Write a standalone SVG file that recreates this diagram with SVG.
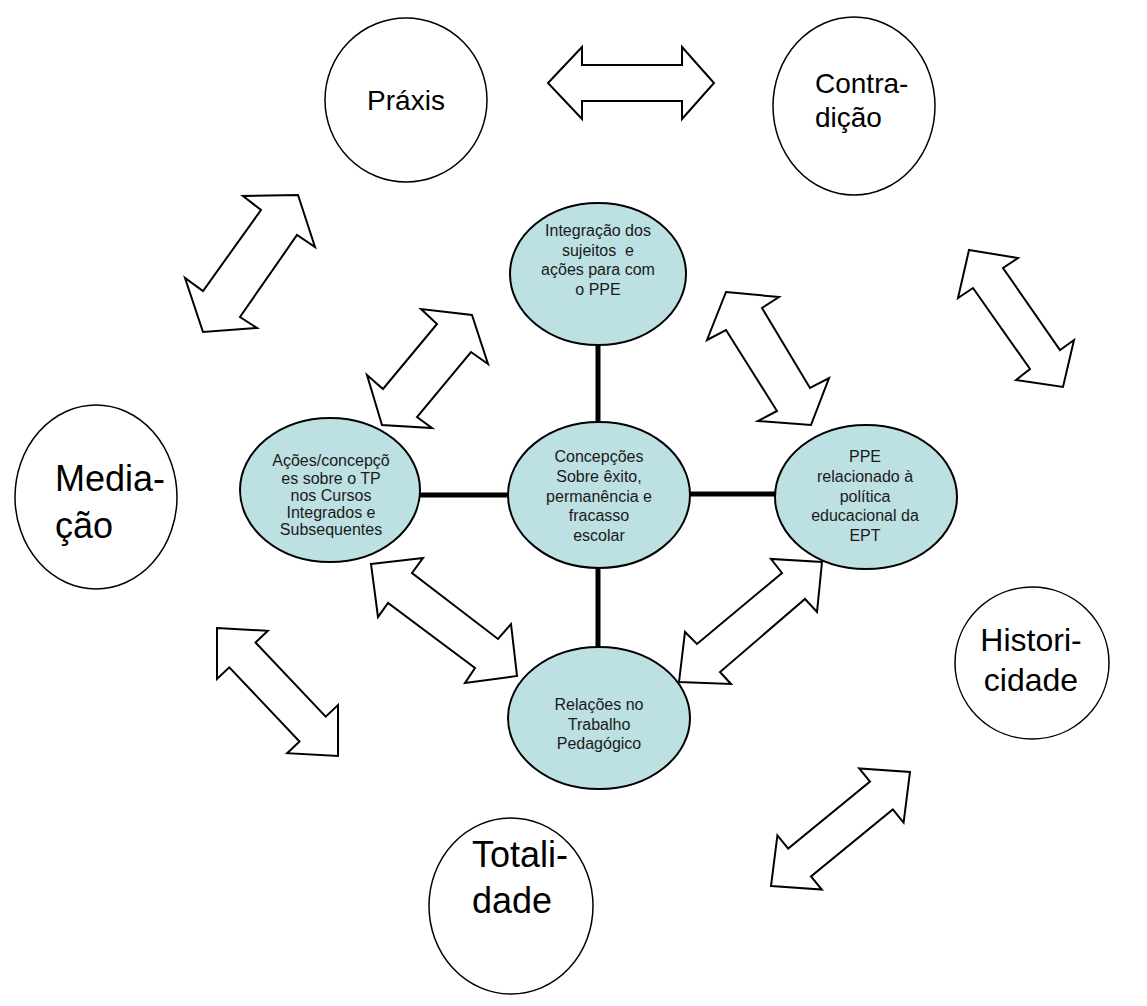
<svg xmlns="http://www.w3.org/2000/svg" width="1147" height="1006" viewBox="0 0 1147 1006">
<style>
.outer{fill:#fff;stroke:#000;stroke-width:1.5}
.inner{fill:#bde0e3;stroke:#000;stroke-width:2}
.arrow{fill:#fff;stroke:#000;stroke-width:2;stroke-linejoin:miter}
.conn{stroke:#000;stroke-width:5;fill:none}
.big{font-family:"Liberation Sans",Arial,sans-serif;fill:#000}
.small{font-family:"Liberation Sans",Arial,sans-serif;font-size:16px;fill:#1a1a1a;text-anchor:middle}
</style>
<rect width="1147" height="1006" fill="#fff"/>
<g id="connectors">
<line class="conn" x1="598" y1="344" x2="598" y2="423"/>
<line class="conn" x1="419" y1="495" x2="509" y2="495"/>
<line class="conn" x1="689" y1="494" x2="777" y2="494"/>
<line class="conn" x1="598" y1="566" x2="598" y2="649"/>
<polygon class="arrow" points="548,83 582,47 582,65 682,65 682,47 714,83 682,119 682,101 582,101 582,119"/>
<polygon class="arrow" points="298,195 315,247 297,235 240,317 257,328 203,332 185,278 203,291 261,210 243,196"/>
<polygon class="arrow" points="472,315 488,364 471,352 417,417 432,428 382,425 367,375 383,389 437,324 421,309"/>
<polygon class="arrow" points="726,292 779,297 762,308 810,388 829,378 811,425 758,421 777,411 726,330 707,340"/>
<polygon class="arrow" points="969,250 1018,258 1003,268 1060,350 1074,340 1063,387 1016,380 1030,369 973,288 958,298"/>
<polygon class="arrow" points="371,564 423,558 412,573 498,639 511,624 517,676 465,683 475,668 388,603 378,617"/>
<polygon class="arrow" points="822,562 817,612 805,599 720,672 731,684 679,682 685,632 697,644 782,573 771,559"/>
<polygon class="arrow" points="217,628 267.8,630.8 255.5,642.5 325.7,716.7 338,705 338,756 287.2,753.2 299.5,741.5 229.3,667.3 217,679"/>
<polygon class="arrow" points="771,886 821.8,889.6 811,876.4 892.8,809.4 903.6,822.6 910,772 859.2,768.4 870,781.6 788.2,848.6 777.4,835.4"/>
</g>
<g id="praxis">
<ellipse class="outer" cx="406" cy="100" rx="81" ry="82"/>
<text class="big" x="406" y="110" font-size="28" text-anchor="middle">Práxis</text>
</g>
<g id="contradicao">
<ellipse class="outer" cx="854" cy="106" rx="81" ry="89"/>
<text class="big" x="815" y="93" font-size="28">Contra-</text>
<text class="big" x="815" y="127" font-size="28">dição</text>
</g>
<g id="mediacao">
<ellipse class="outer" cx="96" cy="497" rx="81" ry="92"/>
<text class="big" x="55" y="491" font-size="36">Media-</text>
<text class="big" x="55" y="538" font-size="36">ção</text>
</g>
<g id="historicidade">
<ellipse class="outer" cx="1032" cy="663" rx="77" ry="76"/>
<text class="big" x="1031" y="651" font-size="32" text-anchor="middle">Histori-</text>
<text class="big" x="1031" y="691" font-size="32" text-anchor="middle">cidade</text>
</g>
<g id="totalidade">
<ellipse class="outer" cx="511" cy="906" rx="82" ry="88"/>
<text class="big" x="472" y="867" font-size="36">Totali-</text>
<text class="big" x="472" y="913" font-size="36">dade</text>
</g>
<g id="integracao">
<ellipse class="inner" cx="598" cy="274" rx="88" ry="71"/>
<text class="small" x="598" y="236">Integração dos</text>
<text class="small" x="598" y="255.5">sujeitos&#160; e</text>
<text class="small" x="598" y="275">ações para com</text>
<text class="small" x="598" y="294.5">o PPE</text>
</g>
<g id="concepcoes">
<ellipse class="inner" cx="599" cy="495" rx="91" ry="73"/>
<text class="small" x="599" y="462">Concepções</text>
<text class="small" x="599" y="482">Sobre êxito,</text>
<text class="small" x="599" y="502">permanência e</text>
<text class="small" x="599" y="521">fracasso</text>
<text class="small" x="599" y="541">escolar</text>
</g>
<g id="acoes">
<ellipse class="inner" cx="330" cy="490" rx="90" ry="72"/>
<text class="small" x="331" y="466">Ações/concepçõ</text>
<text class="small" x="331" y="483.5">es sobre o TP</text>
<text class="small" x="331" y="500.5">nos Cursos</text>
<text class="small" x="331" y="517.5">Integrados e</text>
<text class="small" x="331" y="534.5">Subsequentes</text>
</g>
<g id="ppe">
<ellipse class="inner" cx="866" cy="497" rx="91" ry="72"/>
<text class="small" x="865" y="462">PPE</text>
<text class="small" x="865" y="482">relacionado à</text>
<text class="small" x="865" y="502">política</text>
<text class="small" x="865" y="521">educacional da</text>
<text class="small" x="865" y="541">EPT</text>
</g>
<g id="relacoes">
<ellipse class="inner" cx="599" cy="718" rx="91" ry="71"/>
<text class="small" x="599" y="710">Relações no</text>
<text class="small" x="599" y="730">Trabalho</text>
<text class="small" x="599" y="749">Pedagógico</text>
</g>
</svg>
